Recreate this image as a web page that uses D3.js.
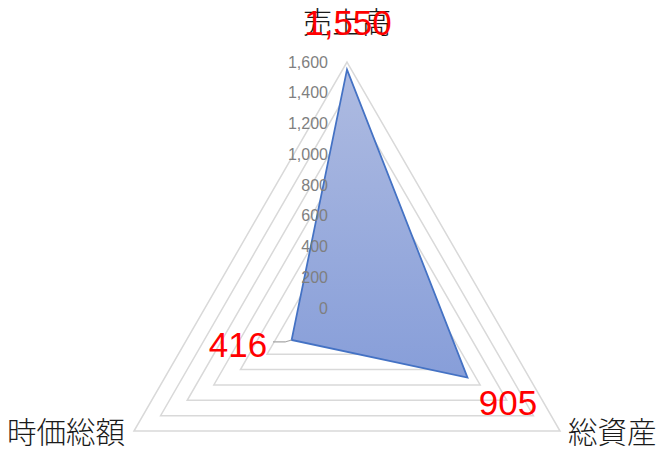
<!DOCTYPE html>
<html>
<head>
<meta charset="utf-8">
<script src="https://cdn.jsdelivr.net/npm/d3@7"></script>
<style>
  body { margin: 0; background: #fff; }
  svg { display: block; }
</style>
</head>
<body>
<svg id="chart" width="661" height="451"></svg>
<script>
// data
const categories = ["売上高", "総資産", "時価総額"];
const values = [1550, 905, 416];
const tickValues = [0, 200, 400, 600, 800, 1000, 1200, 1400, 1600];

const drawRadar = () => {
  const svg = d3.select("#chart"),
      cx = 347, cy = 308, radius = 246;

  const r = d3.scaleLinear().domain([0, 1600]).range([0, radius]);
  // angle from top, clockwise
  const angle = d3.scalePoint().domain(categories).range([0, 2 * Math.PI * 2 / 3]);
  const pos = (cat, v) => {
    const a = angle(cat);
    return [cx + r(v) * Math.sin(a), cy - r(v) * Math.cos(a)];
  };

  const defs = svg.append("defs");
  const grad = defs.append("linearGradient")
      .attr("id", "fillGrad")
      .attr("x1", 0).attr("y1", 0).attr("x2", 0).attr("y2", 1);
  grad.append("stop").attr("offset", "0%").attr("stop-color", "#aebbe1");
  grad.append("stop").attr("offset", "100%").attr("stop-color", "#879ed9");

  // grid triangles
  svg.append("g")
      .selectAll("polygon")
      .data(tickValues.filter(d => d > 0))
      .enter()
      .append("polygon")
      .attr("points", d => categories.map(c => pos(c, d).join(",")).join(" "))
      .attr("fill", "none")
      .attr("stroke", "#d9d9d9")
      .attr("stroke-width", 1.5);

  // data polygon
  svg.append("polygon")
      .attr("points", categories.map((c, i) => pos(c, values[i]).join(",")).join(" "))
      .attr("fill", "url(#fillGrad)")
      .attr("stroke", "#4472c4")
      .attr("stroke-width", 1.75)
      .attr("stroke-linejoin", "miter");

  // tick labels (drawn over the series)
  svg.append("g")
      .selectAll("text")
      .data(tickValues)
      .enter()
      .append("text")
      .attr("x", cx - 19)
      .attr("y", d => cy - r(d))
      .attr("dy", "0.35em")
      .attr("text-anchor", "end")
      .attr("font-family", "'Liberation Sans', Arial, sans-serif")
      .attr("font-size", 16)
      .attr("fill", "#7f7f7f")
      .text(d => d3.format(",")(d));

  // category labels
  const catLabels = [
    { x: cx, y: 22, anchor: "middle" },
    { x: 568, y: 432, anchor: "start" },
    { x: 125, y: 432, anchor: "end" }
  ];
  svg.append("g")
      .selectAll("text")
      .data(categories)
      .enter()
      .append("text")
      .attr("x", (d, i) => catLabels[i].x)
      .attr("y", (d, i) => catLabels[i].y)
      .attr("dy", "0.36em")
      .attr("text-anchor", (d, i) => catLabels[i].anchor)
      .attr("font-family", "'Noto Sans CJK JP', sans-serif")
      .attr("font-size", 29.5)
      .attr("font-weight", 300)
      .attr("fill", "#1a1a1a")
      .text(d => d);

  // leader line for 時価総額 label
  const p3 = pos(categories[2], values[2]);
  svg.append("polyline")
      .attr("points", [[273, p3[1] + 2], [285, p3[1] + 2], p3].map(p => p.join(",")).join(" "))
      .attr("fill", "none")
      .attr("stroke", "#a6a6a6")
      .attr("stroke-width", 1.25);

  // value labels
  const valLabels = [
    { x: cx + 1, y: 22 },
    { x: 508, y: 402 },
    { x: 238, y: 344 }
  ];
  svg.append("g")
      .selectAll("text")
      .data(values)
      .enter()
      .append("text")
      .attr("x", (d, i) => valLabels[i].x)
      .attr("y", (d, i) => valLabels[i].y)
      .attr("dy", "0.36em")
      .attr("text-anchor", "middle")
      .attr("font-family", "'Liberation Sans', Arial, sans-serif")
      .attr("font-size", 35)
      .attr("fill", "#ff0000")
      .text(d => d3.format(",")(d));
};

drawRadar();
</script>
</body>
</html>
